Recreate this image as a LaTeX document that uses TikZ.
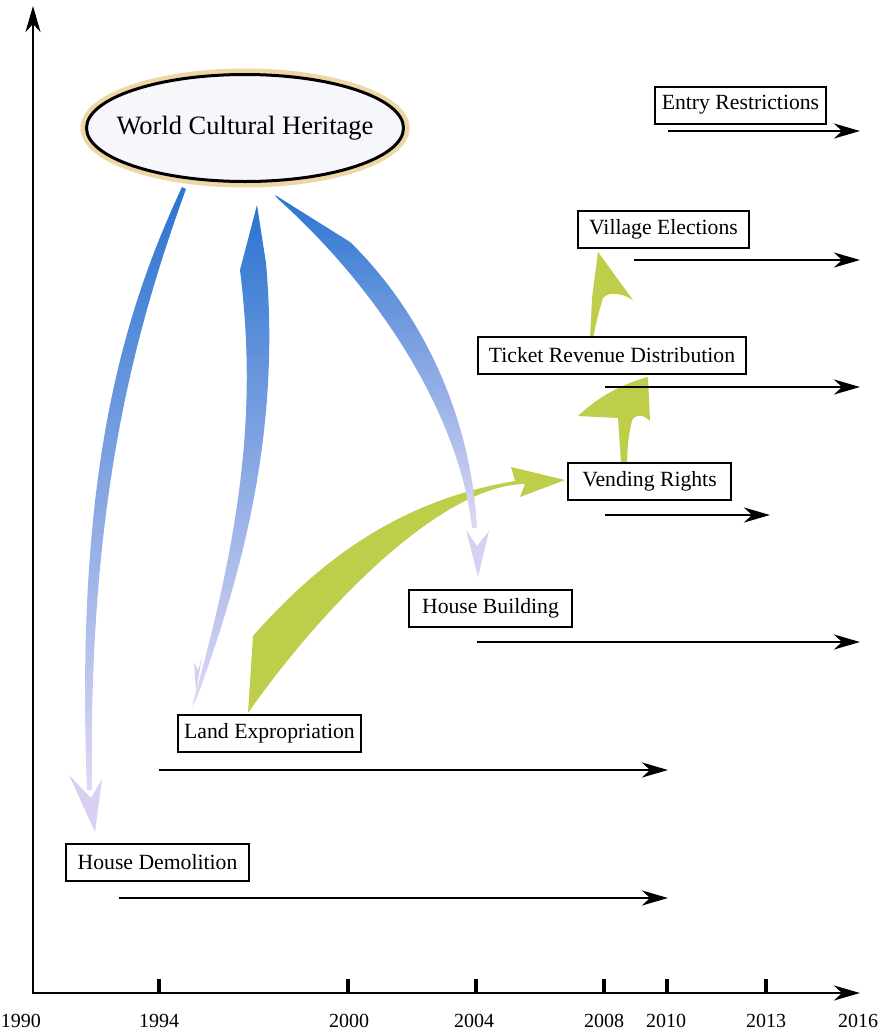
\documentclass[tikz,border=0pt]{standalone}
\usepackage{fontspec}
\setmainfont{Liberation Serif}
\usetikzlibrary{arrows.meta,shapes.geometric}

\definecolor{ribbondark}{HTML}{2A74D0}
\definecolor{ribbonmid}{HTML}{62A2E4}
\definecolor{ribbonend}{HTML}{E0D8F5}
\definecolor{ribbontip}{HTML}{B9A9E6}
\definecolor{leaf}{HTML}{BECE4A}
\definecolor{halo}{HTML}{EFD7A5}
\definecolor{ovalfill}{HTML}{F7F7FB}

\begin{document}
\begin{tikzpicture}[x=1pt,y=-1pt,
  event/.style={draw, line width=2pt, fill=white, minimum height=37pt,
    inner sep=0pt, font=\fontsize{21.7}{24}\selectfont},
  span/.style={line width=2.5pt, -{Stealth[length=26pt,width=15pt,inset=8pt]}},
  axisline/.style={line width=2.5pt,
    {Stealth[length=26pt,width=15pt,inset=8pt]}-{Stealth[length=26pt,width=15pt,inset=8pt]}},
  tickmark/.style={line width=3.5pt},
  yearlabel/.style={font=\fontsize{20}{22}\selectfont},
  leafarrow/.style={fill=leaf, draw=none},
  ribbonbody/.style={top color=ribbondark, middle color=ribbonmid, bottom color=ribbonend},
  ribbontipstyle/.style={fill=ribbontip, fill opacity=0.55, draw=none}]

\useasboundingbox (0,0) rectangle (881,1034);

% ---- axes ----
\coordinate (O) at (33,993);
\coordinate (ytop) at (33,6);
\coordinate (xend) at (860,993);
\draw[axisline] (ytop) -- (O) -- (xend);
\foreach \xx in {159,348,476,604,667,766}
  \draw[tickmark] (\xx,979) -- (\xx,993);
\foreach \xx/\yr in {21/1990,159/1994,349/2000,474/2004,604/2008,666/2010,766/2013,858/2016}
  \node[yearlabel] (yr\yr) at (\xx,1021) {\yr};

% ---- green influence arrows ----
\fill[leafarrow] (248,713) -- (253,636)
  .. controls (320,560) and (400,500) .. (515,481)
  -- (511,467) -- (565,480) -- (520,497) -- (525,484)
  .. controls (440,485) and (320,610) .. (248,713) -- cycle;
\fill[leafarrow] (621,463) .. controls (619,440) .. (618,418)
  -- (578,416) .. controls (600,395) and (625,383) .. (648,377)
  -- (650,421) .. controls (642,413) and (635,415) .. (632,420)
  .. controls (628,440) .. (627,463) -- cycle;
\fill[leafarrow] (590,338) .. controls (591,320) .. (592,298)
  -- (598,252) -- (633,300) .. controls (620,292) and (608,292) .. (603,298)
  .. controls (598,315) .. (593,338) -- cycle;

% ---- blue ribbons from the heritage listing ----
\shade[ribbonbody]
  (182,187) .. controls (120,320) and (75,480) .. (87,790)
  -- (92,790) .. controls (88,500) and (135,330) .. (186,189) -- cycle;
\fill[ribbontipstyle] (69,775) -- (91,798) -- (102,779) -- (95,832) -- cycle;

\shade[ribbonbody]
  (257,205) -- (240,270) .. controls (256,400) and (245,520) .. (192,706)
  -- (196,700) .. controls (248,560) and (280,420) .. (266,263) -- cycle;
\fill[ribbontipstyle] (194,662) -- (198,670) -- (202,657) -- (196,692) -- cycle;

\shade[ribbonbody]
  (275,195) -- (350,242) .. controls (410,300) and (470,400) .. (477,528)
  -- (472,528) .. controls (460,420) and (385,295) .. (277,198) -- cycle;
\fill[ribbontipstyle] (466,530) -- (477,546) -- (489,531) -- (478,577) -- cycle;

% ---- heritage listing ----
\node[ellipse, draw=halo, line width=6pt, minimum width=323pt, minimum height=113pt,
  inner sep=0pt] (wchhalo) at (245,128) {};
\node[ellipse, draw, line width=3pt, fill=ovalfill, minimum width=317pt,
  minimum height=107pt, inner sep=0pt, font=\fontsize{26.5}{30}\selectfont]
  (wch) at (245,128) {\makebox[0pt]{World Cultural Heritage}};

% ---- events ----
\node[event, minimum width=171pt] (entry)   at (740.5,105)   {Entry Restrictions};
\node[event, minimum width=171pt] (village) at (663.5,229)   {Village Elections};
\node[event, minimum width=268pt] (ticket)  at (612,355.5)   {Ticket Revenue Distribution};
\node[event, minimum width=163pt] (vending) at (649.5,481.5) {Vending Rights};
\node[event, minimum width=163pt] (build)   at (490.5,608)   {House Building};
\node[event, minimum width=183pt] (land)    at (269.5,733.5) {Land Expropriation};
\node[event, minimum width=183pt] (demol)   at (157.5,862.5) {House Demolition};

% ---- time spans ----
\coordinate (entry-a)   at (668,131); \coordinate (entry-b)   at (860,131);
\coordinate (village-a) at (634,260); \coordinate (village-b) at (860,260);
\coordinate (ticket-a)  at (605,387); \coordinate (ticket-b)  at (860,387);
\coordinate (vending-a) at (605,515); \coordinate (vending-b) at (770,515);
\coordinate (build-a)   at (477,642); \coordinate (build-b)   at (860,642);
\coordinate (land-a)    at (159,770); \coordinate (land-b)    at (668,770);
\coordinate (demol-a)   at (119,898); \coordinate (demol-b)   at (668,898);
\foreach \ev in {entry,village,ticket,vending,build,land,demol}
  \draw[span] (\ev-a) -- (\ev-b);

\end{tikzpicture}
\end{document}
